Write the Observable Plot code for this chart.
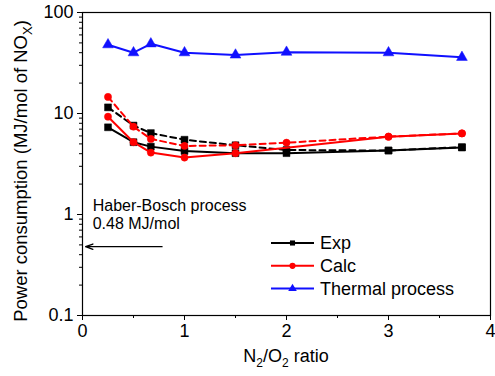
<!DOCTYPE html>
<html><head><meta charset="utf-8">
<script src="https://cdn.jsdelivr.net/npm/d3@7"></script>
<script src="https://cdn.jsdelivr.net/npm/@observablehq/plot@0.6"></script>
<style>
body{margin:0;background:#fff;}
#chart{position:relative;width:495px;height:376px;}
</style>
</head><body><div id="chart"></div>
<script>
// ---- data ----
const ratio      = [0.25, 0.5, 0.67, 1, 1.5, 2, 3, 3.72];
const expSolid   = [7.3, 5.2, 4.7, 4.25, 4.05, 4.05, 4.3, 4.6];
const expDashed  = [11.5, 7.6, 6.4, 5.5, 4.85, 4.35, 4.3, 4.65];
const calcSolidX = [0.25, 0.5, 0.67, 1, 1.5, 3, 3.72];
const calcSolid  = [9.3, 5.2, 4.1, 3.66, 4.05, 5.9, 6.35];
const calcDashed = [14.6, 7.4, 5.6, 4.77, 4.85, 5.14, 5.9, 6.35];
const thermal    = [48, 40, 49, 40, 38, 40.5, 40, 36];
const legendNames = ["Exp", "Calc", "Thermal process"];
const xTicks = [0, 1, 2, 3, 4];
const xMinor = [0.5, 1.5, 2.5, 3.5];
const yTicks = [0.1, 1, 10, 100];
const yMinor = [0.2,0.3,0.4,0.5,0.6,0.7,0.8,0.9,2,3,4,5,6,7,8,9,20,30,40,50,60,70,80,90];
const habText = ["Haber-Bosch process", "0.48 MJ/mol"];
const habValue = 0.48;

// ---- build ----
const FONT = "Arial, 'Liberation Sans', sans-serif";
const rows = (xs, ys) => xs.map((x, i) => ({x, y: ys[i]}));
const series = [
  {rows: rows(ratio, expSolid),   color: "#000000", symbol: "square",   r: 3.9, dash: null},
  {rows: rows(ratio, expDashed),  color: "#000000", symbol: "square",   r: 3.9, dash: "6,4"},
  {rows: rows(calcSolidX, calcSolid), color: "#ff0000", symbol: "circle", r: 3.6, dash: null},
  {rows: rows(ratio, calcDashed), color: "#ff0000", symbol: "circle",   r: 3.6, dash: "6,4"},
  {rows: rows(ratio, thermal),    color: "#1010ff", symbol: "triangle", r: 4.0, dash: null}
];
const marks = [
  Plot.axisX({ticks: xTicks, tickSize: 5, tickPadding: 4, label: null, tickFormat: d => String(d)}),
  Plot.axisX({ticks: xMinor, tickSize: 3, text: null, label: null}),
  Plot.axisY({ticks: yTicks, tickSize: 5, tickPadding: 4, label: null, tickFormat: d => String(d)}),
  Plot.axisY({ticks: yMinor, tickSize: 3, text: null, label: null}),
  Plot.frame({stroke: "#000", strokeWidth: 1.2})
];
for (const s of series) {
  marks.push(Plot.line(s.rows, {x: "x", y: "y", stroke: s.color, strokeWidth: 2, strokeDasharray: s.dash}));
  marks.push(Plot.dot(s.rows, {x: "x", y: "y", fill: s.color, stroke: s.color, strokeWidth: 0.5, symbol: s.symbol, r: s.r}));
}
marks.push(Plot.arrow([{x1: 0.78, x2: 0.03, y: habValue}], {x1: "x1", x2: "x2", y1: "y", y2: "y", stroke: "#000", strokeWidth: 1.3, headLength: 9, headAngle: 40}));
marks.push(Plot.text([{t: habText[0], y: 1.08}, {t: habText[1], y: 0.72}], {x: 0.1, y: "y", text: "t", textAnchor: "start", lineAnchor: "bottom", fontSize: 16, fill: "#000"}));

const svg = Plot.plot({
  width: 495, height: 376,
  marginLeft: 82, marginRight: 5, marginTop: 12, marginBottom: 61,
  x: {domain: [0, 4]},
  y: {type: "log", domain: [0.1, 100]},
  style: {fontSize: "18px", fontFamily: FONT, color: "#000", background: "#fff"},
  marks
});
document.getElementById("chart").appendChild(svg);

// axis titles with subscripts
const s = d3.select(svg);
const yl = s.append("text").attr("transform", "translate(27,171) rotate(-90)")
  .attr("text-anchor", "middle").attr("font-size", 18.5).attr("font-family", FONT).attr("fill", "#000");
yl.append("tspan").text("Power consumption (MJ/mol of NO");
yl.append("tspan").attr("font-size", 13).attr("dy", 5).text("X");
yl.append("tspan").attr("dy", -5).text(")");

const xl = s.append("text").attr("x", 286).attr("y", 362)
  .attr("text-anchor", "middle").attr("font-size", 18).attr("font-family", FONT).attr("fill", "#000");
xl.append("tspan").text("N");
xl.append("tspan").attr("font-size", 12).attr("dy", 5).text("2");
xl.append("tspan").attr("dy", -5).text("/O");
xl.append("tspan").attr("font-size", 12).attr("dy", 5).text("2");
xl.append("tspan").attr("dy", -5).text(" ratio");

// legend
const legendStyle = [
  {color: "#000000", sym: d3.symbolSquare, size: 26},
  {color: "#ff0000", sym: d3.symbolCircle, size: 30},
  {color: "#1010ff", sym: d3.symbolTriangle, size: 32}
];
const lg = s.append("g");
legendNames.forEach((name, i) => {
  const y = 243 + i * 22.8;
  const st = legendStyle[i];
  lg.append("line").attr("x1", 271).attr("x2", 314).attr("y1", y).attr("y2", y)
    .attr("stroke", st.color).attr("stroke-width", 2);
  lg.append("path").attr("d", d3.symbol(st.sym, st.size)()).attr("transform", `translate(292.5,${y})`)
    .attr("fill", st.color);
  lg.append("text").attr("x", 320).attr("y", y).attr("dy", "0.36em").attr("font-size", 18)
    .attr("text-anchor", "start")
    .attr("font-family", FONT).attr("fill", "#000").text(name);
});
</script>
</body></html>
